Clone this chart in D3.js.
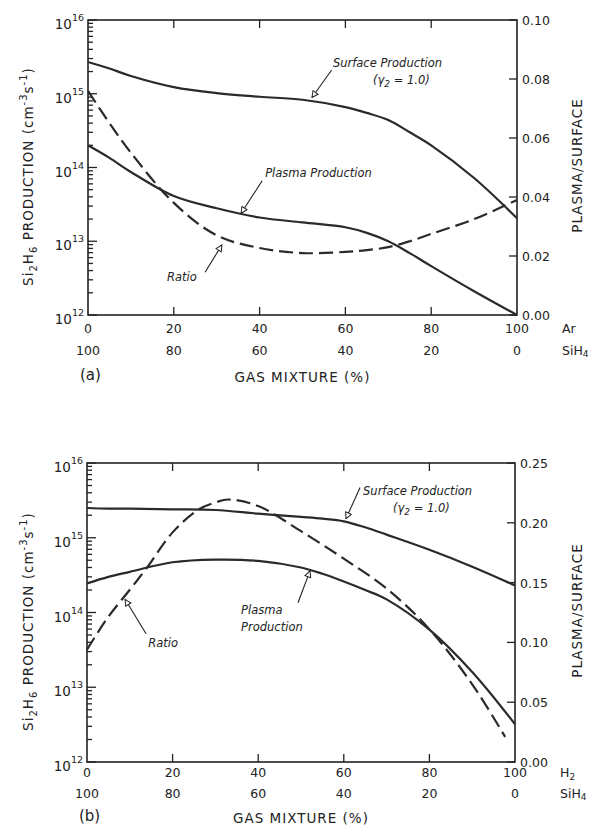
<!DOCTYPE html>
<html lang="en">
<head>
    <meta charset="UTF-8">
    <title>Si2H6 Production vs Gas Mixture</title>
    <script src="https://d3js.org/d3.v7.min.js"></script>
    <style>
        body { margin: 0; background: #fff; }
        svg { font-family: "DejaVu Sans", sans-serif; fill: #222; }
        .frame { fill: none; stroke: #222; stroke-width: 1.6; }
        .tick-line { stroke: #222; stroke-width: 1.3; }
        .curve { fill: none; stroke: #2a2a2a; stroke-width: 2.2; }
        .curve.ratio { stroke-dasharray: 14,6; }
        .leader { fill: none; stroke: #222; stroke-width: 1.1; }
        .note { font-size: 11.5px; font-style: italic; }
        .tick-text { font-size: 12.5px; }
        .axis-title { font-size: 13.5px; letter-spacing: 1px; }
    </style>
</head>
<body>
<svg width="602" height="827"></svg>
<script>
    // Bottom axis labels (two composition rows)
    const topRow = [0, 20, 40, 60, 80, 100];
    const bottomRow = [100, 80, 60, 40, 20, 0];

    // Panel (a): Ar / SiH4
    const pctA = [0, 5, 10, 20, 30, 40, 50, 60, 65, 70, 75, 80, 90, 100];
    const surfaceA = [2.7e15, 2.2e15, 1.74e15, 1.23e15, 1.02e15, 9.1e14, 8.3e14, 6.6e14, 5.5e14, 4.4e14, 3.0e14, 2.0e14, 7.2e13, 2.05e13];
    const plasmaA = [2.0e14, 1.35e14, 8.7e13, 4.1e13, 2.8e13, 2.1e13, 1.8e13, 1.55e13, 1.3e13, 1.0e13, 6.9e12, 4.6e12, 2.1e12, 1.0e12];
    const ratioA = [0.076, 0.065, 0.055, 0.038, 0.027, 0.0227, 0.021, 0.0214, 0.022, 0.023, 0.025, 0.0275, 0.0325, 0.039];
    const rightTicksA = [0.00, 0.02, 0.04, 0.06, 0.08, 0.10];

    // Panel (b): H2 / SiH4
    const pctB = [0, 5, 10, 20, 30, 40, 50, 55, 60, 65, 70, 80, 90, 100];
    const surfaceB = [2.5e15, 2.45e15, 2.45e15, 2.4e15, 2.35e15, 2.1e15, 1.9e15, 1.8e15, 1.66e15, 1.38e15, 1.1e15, 6.9e14, 4.1e14, 2.3e14];
    const plasmaB = [2.45e14, 3.0e14, 3.5e14, 4.7e14, 5.1e14, 4.9e14, 4.0e14, 3.3e14, 2.6e14, 2.0e14, 1.5e14, 5.9e13, 1.6e13, 3.2e12];
    const pctRatioB = [0, 5, 10, 14, 20, 26, 30, 33, 40, 50, 60, 70, 80, 90, 97.7];
    const ratioB = [0.094, 0.1215, 0.144, 0.1625, 0.192, 0.211, 0.217, 0.2195, 0.214, 0.193, 0.170, 0.145, 0.111, 0.065, 0.021];
    const rightTicksB = [0.00, 0.05, 0.10, 0.15, 0.20, 0.25];

    const svg = d3.select("svg");

    // open arrowhead used on the leader lines
    svg.append("defs").append("marker")
        .attr("id", "arrow")
        .attr("viewBox", "0 0 10 10")
        .attr("refX", 9).attr("refY", 5)
        .attr("markerWidth", 7).attr("markerHeight", 7)
        .attr("orient", "auto")
        .append("path")
        .attr("d", "M1,1 L9,5 L1,9 Z")
        .attr("fill", "#fff")
        .attr("stroke", "#222")
        .attr("stroke-width", 1.3);

    const zip = (xs, ys) => xs.map((d, i) => [d, ys[i]]);

    function drawPanel(p) {
        const x = d3.scaleLinear().domain([0, 100]).range([p.left, p.right]);
        const y = d3.scaleLog().domain([1e12, 1e16]).range([p.bottom, p.top]);
        const yr = d3.scaleLinear().domain([0, p.rightMax]).range([p.bottom, p.top]);
        const g = svg.append("g");

        // frame
        g.append("rect").attr("class", "frame")
            .attr("x", p.left).attr("y", p.top)
            .attr("width", p.right - p.left).attr("height", p.bottom - p.top);

        // x ticks on top and bottom (inside)
        const inner = topRow.filter(d => d > 0 && d < 100);
        inner.forEach(d => {
            g.append("line").attr("class", "tick-line")
                .attr("x1", x(d)).attr("x2", x(d))
                .attr("y1", p.bottom).attr("y2", p.bottom - 8);
            g.append("line").attr("class", "tick-line")
                .attr("x1", x(d)).attr("x2", x(d))
                .attr("y1", p.top).attr("y2", p.top + 8);
        });

        // log ticks on the left (inside)
        y.ticks().forEach(v => {
            const major = Math.abs(Math.log10(v) - Math.round(Math.log10(v))) < 1e-9;
            g.append("line").attr("class", "tick-line")
                .attr("x1", p.left).attr("x2", p.left + (major ? 9 : 5))
                .attr("y1", y(v)).attr("y2", y(v));
        });

        // right axis ticks (inside)
        p.rightTicks.forEach(v => {
            g.append("line").attr("class", "tick-line")
                .attr("x1", p.right).attr("x2", p.right - 8)
                .attr("y1", yr(v)).attr("y2", yr(v));
            g.append("text").attr("class", "tick-text")
                .attr("x", p.right + 5).attr("y", yr(v) + 5)
                .text(d3.format(".2f")(v));
        });

        // left decade labels 10^n
        [12, 13, 14, 15, 16].forEach(n => {
            const t = g.append("text").attr("class", "tick-text")
                .attr("x", p.left - 4).attr("y", y(Math.pow(10, n)) + 9)
                .attr("text-anchor", "end").style("font-size", "13.5px");
            t.append("tspan").text("10");
            t.append("tspan").attr("dy", -8).attr("font-size", "9.5px").text(n);
        });

        // bottom labels
        topRow.forEach((d, i) => {
            g.append("text").attr("class", "tick-text")
                .attr("x", x(d)).attr("y", p.bottom + p.row1)
                .attr("text-anchor", "middle").text(d);
            g.append("text").attr("class", "tick-text")
                .attr("x", x(d)).attr("y", p.bottom + p.row2)
                .attr("text-anchor", "middle").text(bottomRow[i]);
        });
        const gas1 = g.append("text").attr("class", "tick-text")
            .attr("x", p.right + 45).attr("y", p.bottom + p.row1);
        gas1.append("tspan").text(p.gas[0]);
        if (p.gas[1]) gas1.append("tspan").attr("dy", 3).attr("font-size", "9px").text(p.gas[1]);
        const gas2 = g.append("text").attr("class", "tick-text")
            .attr("x", p.right + 45).attr("y", p.bottom + p.row2);
        gas2.append("tspan").text("SiH");
        gas2.append("tspan").attr("dy", 2).attr("font-size", "9px").text("4");

        g.append("text").attr("class", "tick-text")
            .attr("x", p.left - 8).attr("y", p.bottom + p.row3)
            .style("font-size", "15px").text(p.tag);
        g.append("text").attr("class", "axis-title")
            .attr("x", x(50)).attr("y", p.bottom + p.row3 + 2)
            .attr("text-anchor", "middle").text("GAS MIXTURE (%)");

        // left title
        const ly = (p.top + p.bottom) / 2 + 9;
        const lt = g.append("text").attr("class", "axis-title")
            .attr("transform", `translate(33,${ly}) rotate(-90)`)
            .attr("text-anchor", "middle");
        lt.append("tspan").text("Si");
        lt.append("tspan").attr("dy", 4).attr("font-size", "10px").text("2");
        lt.append("tspan").attr("dy", -4).text("H");
        lt.append("tspan").attr("dy", 4).attr("font-size", "10px").text("6");
        lt.append("tspan").attr("dy", -4).text(" PRODUCTION (cm");
        lt.append("tspan").attr("dy", -6).attr("font-size", "10px").text("-3");
        lt.append("tspan").attr("dy", 6).text("s");
        lt.append("tspan").attr("dy", -6).attr("font-size", "10px").text("-1");
        lt.append("tspan").attr("dy", 6).text(")");

        // right title
        g.append("text").attr("class", "axis-title")
            .attr("transform", `translate(582,${(p.top + p.bottom) / 2 - 2}) rotate(-90)`)
            .attr("text-anchor", "middle")
            .text("PLASMA/SURFACE");

        // curves
        const line = d3.line().x(d => x(d[0])).y(d => y(d[1])).curve(d3.curveCatmullRom.alpha(0.5));
        const lineR = d3.line().x(d => x(d[0])).y(d => yr(d[1])).curve(d3.curveCatmullRom.alpha(0.5));
        g.append("path").attr("class", "curve").attr("d", line(zip(p.pct, p.surface)));
        g.append("path").attr("class", "curve").attr("d", line(zip(p.pct, p.plasma)));
        g.append("path").attr("class", "curve ratio").attr("d", lineR(zip(p.pctRatio, p.ratio)));

        // annotations
        p.notes.forEach(n => {
            n.lines.forEach((ln, i) => {
                const t = g.append("text").attr("class", "note")
                    .attr("x", x(n.at[0]) + (ln.dx || 0)).attr("y", y(n.at[1]) + i * 17);
                ln.parts.forEach(part => {
                    const s = t.append("tspan").text(part.t);
                    if (part.sub) s.attr("dy", 3).attr("font-size", "9px");
                    if (part.back) s.attr("dy", -3);
                });
            });
            g.append("line").attr("class", "leader")
                .attr("x1", x(n.from[0])).attr("y1", y(n.from[1]))
                .attr("x2", x(n.to[0])).attr("y2", y(n.to[1]))
                .attr("marker-end", "url(#arrow)");
        });
    }

    const gammaLine = [{ t: "(γ" }, { t: "2", sub: true }, { t: " = 1.0)", back: true }];

    drawPanel({
        left: 88, right: 517, top: 20, bottom: 315, rightMax: 0.10,
        row1: 18, row2: 40, row3: 65,
        rightTicks: rightTicksA, pct: pctA, pctRatio: pctA,
        surface: surfaceA, plasma: plasmaA, ratio: ratioA,
        gas: ["Ar"], tag: "(a)",
        notes: [
            { at: [57.1, 2.3e15], lines: [{ parts: [{ t: "Surface Production" }] }, { dx: 40, parts: gammaLine }],
              from: [56.8, 2.1e15], to: [52.2, 8.9e14] },
            { at: [41.3, 7.4e13], lines: [{ parts: [{ t: "Plasma Production" }] }],
              from: [40.6, 6.6e13], to: [35.7, 2.4e13] },
            { at: [18.4, 2.9e12], lines: [{ parts: [{ t: "Ratio" }] }],
              from: [27.3, 3.8e12], to: [31.2, 8.9e12] }
        ]
    });

    drawPanel({
        left: 87, right: 515, top: 463, bottom: 762, rightMax: 0.25,
        row1: 15, row2: 36, row3: 59,
        rightTicks: rightTicksB, pct: pctB, pctRatio: pctRatioB,
        surface: surfaceB, plasma: plasmaB, ratio: ratioB,
        gas: ["H", "2"], tag: "(b)",
        notes: [
            { at: [64.5, 3.7e15], lines: [{ parts: [{ t: "Surface Production" }] }, { dx: 30, parts: gammaLine }],
              from: [63.8, 4.7e15], to: [60.5, 1.8e15] },
            { at: [36, 9.5e13], lines: [{ parts: [{ t: "Plasma" }] }, { parts: [{ t: "Production" }] }],
              from: [49.3, 1.35e14], to: [52.1, 3.6e14] },
            { at: [14.3, 3.5e13], lines: [{ parts: [{ t: "Ratio" }] }],
              from: [13.8, 5.2e13], to: [8.9, 1.5e14] }
        ]
    });
</script>
</body>
</html>
